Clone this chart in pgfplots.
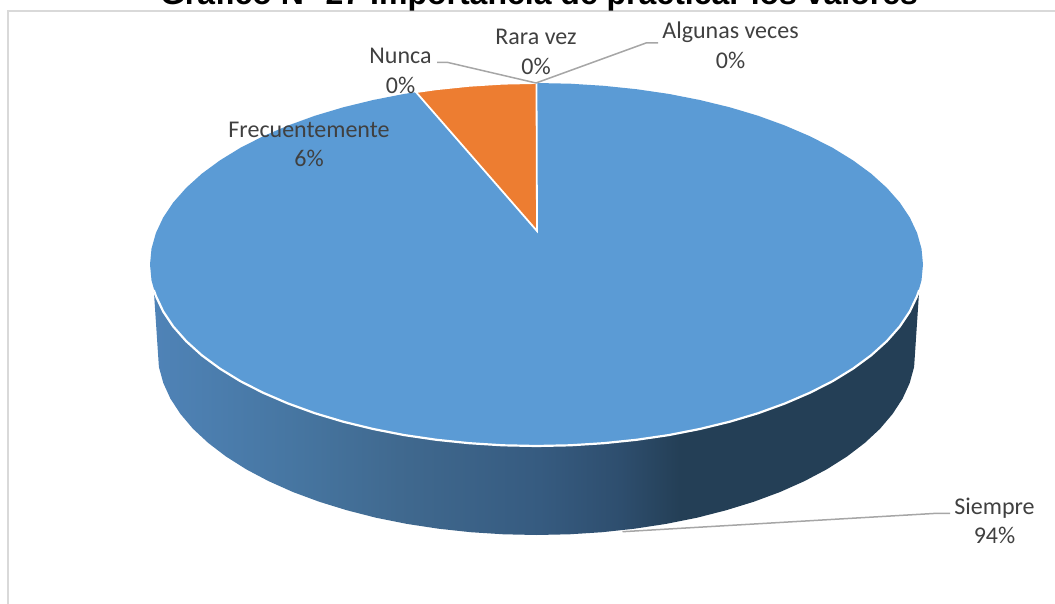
\documentclass[border=0pt]{standalone}
\usepackage{fontspec}
\setmainfont{Carlito}
\newfontfamily\titlefont{Liberation Sans}
\usepackage{pgfplots}
\pgfplotsset{compat=1.18}
\definecolor{s0}{HTML}{4F83B7}
\definecolor{s1}{HTML}{4675A0}
\definecolor{s2}{HTML}{40698F}
\definecolor{s3}{HTML}{365B80}
\definecolor{s4}{HTML}{2E4E6E}
\definecolor{s5}{HTML}{243F56}
\definecolor{blue1}{HTML}{5B9BD5}
\definecolor{orange1}{HTML}{ED7D31}
\definecolor{lead}{HTML}{A6A6A6}
\definecolor{frame}{HTML}{D9D9D9}
\definecolor{lab}{HTML}{404040}
\pgfdeclarehorizontalshading{sidegrad}{100bp}{color(0bp)=(s0); color(25bp)=(s0); color(34.6bp)=(s1); color(41bp)=(s2); color(50.2bp)=(s3); color(55.5bp)=(s4); color(59.4bp)=(s5); color(100bp)=(s5)}
\begin{document}
\begin{tikzpicture}[x=1pt,y=1pt]
\path[use as bounding box, clip] (0,0) rectangle (1055,604);
\begin{axis}[
  at={(0,0)}, anchor=south west,
  width=1055pt, height=604pt, scale only axis,
  xmin=0, xmax=1055, ymin=0, ymax=604, y dir=reverse,
  axis lines=none, ticks=none, clip=true,
]
% frame
\addplot[frame, line width=2pt] coordinates {(1055,11.5) (8.3,11.5) (8.3,604)};
% side wall
\addplot[draw=none, shading=sidegrad] coordinates {
(153.8,290)(158.9,367)(163.3,383)(170.4,398.6)(180.4,413.9)(193,428.8)(208.3,443)(226,456.5)(246.2,469.3)(268.5,481.1)(292.9,492)(319.1,501.7)(347,510.3)(376.3,517.8)(406.9,523.9)(438.4,528.7)(470.7,532.2)(503.5,534.3)(536.5,535)(569.5,534.3)(602.3,532.2)(634.6,528.7)(666.1,523.9)(696.7,517.8)(726,510.3)(753.9,501.7)(780.1,492)(804.5,481.1)(826.8,469.3)(847,456.5)(864.7,443)(880,428.8)(892.6,413.9)(902.6,398.6)(909.7,383)(914.1,367)(919.2,290)
} -- cycle;
% top face: Siempre 94 %
\addplot[draw=none, fill=blue1] coordinates {
(923,264.5)(921.5,280.3)(917.1,296)(909.8,311.5)(899.7,326.6)(886.8,341.2)(871.2,355.3)(853.1,368.6)(832.6,381.2)(809.8,392.8)(784.9,403.5)(758.2,413.2)(729.8,421.7)(699.8,429)(668.7,435.1)(636.5,439.8)(603.6,443.2)(570.2,445.3)(536.5,446)(502.8,445.3)(469.4,443.2)(436.5,439.8)(404.3,435.1)(373.2,429)(343.2,421.7)(314.8,413.2)(288.1,403.5)(263.2,392.8)(240.4,381.2)(219.9,368.6)(201.8,355.3)(186.2,341.2)(173.3,326.6)(163.2,311.5)(155.9,296)(151.5,280.3)(150,264.5)(151.5,248.7)(155.9,233)(163.2,217.5)(173.3,202.4)(186.2,187.8)(201.8,173.7)(219.9,160.4)(240.4,147.8)(263.2,136.2)(288.1,125.5)(314.8,115.8)(343.2,107.3)(373.2,100)(404.3,93.9)(436.5,89.2)(469.4,85.8)(502.8,83.7)(536.5,83)(570.2,83.7)(603.6,85.8)(636.5,89.2)(668.7,93.9)(699.8,100)(729.8,107.3)(758.2,115.8)(784.9,125.5)(809.8,136.2)(832.6,147.8)(853.1,160.4)(871.2,173.7)(886.8,187.8)(899.7,202.4)(909.8,217.5)(917.1,233)(921.5,248.7)
} -- cycle;
% white rim along the front
\addplot[white, line width=2.2pt] coordinates {
(919.2,290)(917.1,296)(909.8,311.5)(899.7,326.6)(886.8,341.2)(871.2,355.3)(853.1,368.6)(832.6,381.2)(809.8,392.8)(784.9,403.5)(758.2,413.2)(729.8,421.7)(699.8,429)(668.7,435.1)(636.5,439.8)(603.6,443.2)(570.2,445.3)(536.5,446)(502.8,445.3)(469.4,443.2)(436.5,439.8)(404.3,435.1)(373.2,429)(343.2,421.7)(314.8,413.2)(288.1,403.5)(263.2,392.8)(240.4,381.2)(219.9,368.6)(201.8,355.3)(186.2,341.2)(173.3,326.6)(163.2,311.5)(155.9,296)(153.8,290)
};
% Frecuentemente 6 %
\addplot[white, line width=1.8pt, fill=orange1] coordinates {
(537,231)(536.5,83)(502.8,83.7)(469.4,85.8)(436.5,89.2)(416,92.1)
} -- cycle;
% leaders
\addplot[lead, line width=1.5pt] coordinates {(437,62.5)(448,62.5)(536,83)};
\addplot[lead, line width=1.5pt] coordinates {(536,83)(646,43)(658,43)};
\addplot[lead, line width=1.5pt] coordinates {(622.5,531.7)(936.7,513.3)(950,513.3)};
% text
\node[font=\titlefont\bfseries\fontsize{32}{36}\selectfont, text=black, anchor=base] at (axis cs:539,4.5) {Gráfico N° 27 Importancia de practicar los valores};
\tikzset{lbl/.style={font=\fontsize{24}{29.5}\selectfont, text=lab, align=center, anchor=center}}
\node[lbl] at (axis cs:730.5,45.5) {Algunas veces\\0\%};
\node[lbl] at (axis cs:536,52) {Rara vez\\0\%};
\node[lbl] at (axis cs:400.5,71) {Nunca\\0\%};
\node[lbl] at (axis cs:309,144.5) {Frecuentemente\\6\%};
\node[lbl] at (axis cs:994.5,521) {Siempre\\94\%};
\end{axis}
\end{tikzpicture}
\end{document}
